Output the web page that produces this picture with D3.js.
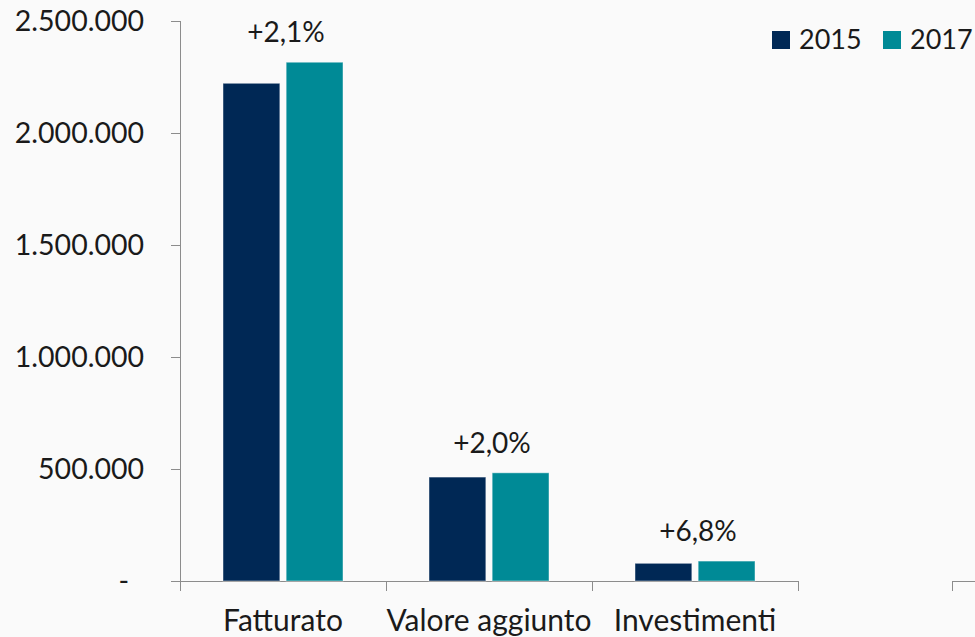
<html>

<head>
    <meta charset="UTF-8">
    <title>Fatturato, valore aggiunto, investimenti</title>
    <style>
        body {
            margin: 0;
            background: #fafafa;
        }

        svg text {
            font-family: Lato, "Open Sans", sans-serif;
            fill: #1a1a1a;
        }

        .axis .domain,
        .axis .tick line {
            stroke: #8c8c8c;
            shape-rendering: crispEdges;
        }
    </style>
    <script src="https://cdn.jsdelivr.net/npm/d3@7"></script>
</head>

<body>
    <script type="text/javascript">
        // data
        const categories = ['Fatturato', 'Valore aggiunto', 'Investimenti']
        const years = ['2015', '2017']
        const values2015 = [2222000, 464000, 79000]
        const values2017 = [2316000, 483000, 89000]
        const growthLabels = ['+2,1%', '+2,0%', '+6,8%']
        const yTicks = [0, 500000, 1000000, 1500000, 2000000, 2500000]
        const colors = ['#002855', '#008a96']

        const W = 975, H = 637

        const svg = d3.select('body').append('svg')
            .attr('width', W)
            .attr('height', H)

        const y = d3.scaleLinear()
            .domain([0, 2500000])
            .range([581, 21])

        const x0 = d3.scaleBand()
            .domain(categories)
            .range([180, 798])

        const x1 = d3.scaleBand()
            .domain(years)
            .range([43, x0.bandwidth() - 43])
            .paddingInner(0.1)

        const it = d3.formatLocale({ decimal: ',', thousands: '.', grouping: [3], currency: ['', ''] })
        const fmt = it.format(',')

        // y axis
        const yAxis = svg.append('g')
            .attr('class', 'axis')
            .attr('transform', 'translate(180,0)')
            .call(d3.axisLeft(y)
                .tickValues(yTicks)
                .tickSize(9)
                .tickSizeOuter(9)
                .tickPadding(27)
                .tickFormat(d => d === 0 ? '-' : fmt(d)))
        yAxis.selectAll('text')
            .style('font-size', '28.5px')
            .attr('dx', d => d === 0 ? -15 : 0)

        // x axis: ticks on band edges
        const xEdges = d3.scaleLinear()
            .domain([0, categories.length])
            .range(x0.range())
        svg.append('g')
            .attr('class', 'axis')
            .attr('transform', 'translate(0,' + y(0) + ')')
            .call(d3.axisBottom(xEdges)
                .ticks(categories.length)
                .tickSize(10)
                .tickSizeOuter(0)
                .tickFormat(''))

        // start of the next panel, cut off at the right edge
        const xNext = d3.scaleLinear().domain([0, 1]).range([952, 1160])
        svg.append('g')
            .attr('class', 'axis')
            .attr('transform', 'translate(0,' + y(0) + ')')
            .call(d3.axisBottom(xNext).ticks(1).tickSize(10).tickSizeOuter(0).tickFormat(''))

        // category labels
        svg.append('g')
            .selectAll('text')
            .data(categories)
            .join('text')
            .attr('x', d => x0(d) + x0.bandwidth() / 2)
            .attr('y', 631)
            .attr('text-anchor', 'middle')
            .style('font-size', '30px')
            .text(d => d)

        // bars
        const rows = categories.map((c, i) => ({ cat: c, vals: [values2015[i], values2017[i]] }))

        const groups = svg.append('g')
            .selectAll('g')
            .data(rows)
            .join('g')
            .attr('transform', d => 'translate(' + x0(d.cat) + ',0)')

        groups.selectAll('rect')
            .data(d => d.vals.map((v, j) => ({ year: years[j], v: v, j: j })))
            .join('rect')
            .attr('x', d => x1(d.year))
            .attr('y', d => y(d.v))
            .attr('width', x1.bandwidth())
            .attr('height', d => y(0) - y(d.v))
            .attr('fill', d => colors[d.j])
            .attr('stroke', '#ffffff')
            .attr('stroke-opacity', 0.45)
            .attr('stroke-width', 1)

        // growth labels
        groups.append('text')
            .attr('x', x0.bandwidth() / 2 + 3)
            .attr('y', d => y(d3.max(d.vals)) - 20)
            .attr('text-anchor', 'middle')
            .style('font-size', '28px')
            .text((d, i) => growthLabels[i])

        // legend
        const legend = svg.append('g')
            .selectAll('g')
            .data(years)
            .join('g')
            .attr('transform', (d, i) => 'translate(' + (772 + i * 111) + ',31)')

        legend.append('rect')
            .attr('width', 18)
            .attr('height', 18)
            .attr('fill', (d, i) => colors[i])

        legend.append('text')
            .attr('x', 27)
            .attr('y', 18)
            .style('font-size', '27px')
            .text(d => d)
    </script>
</body>

</html>
